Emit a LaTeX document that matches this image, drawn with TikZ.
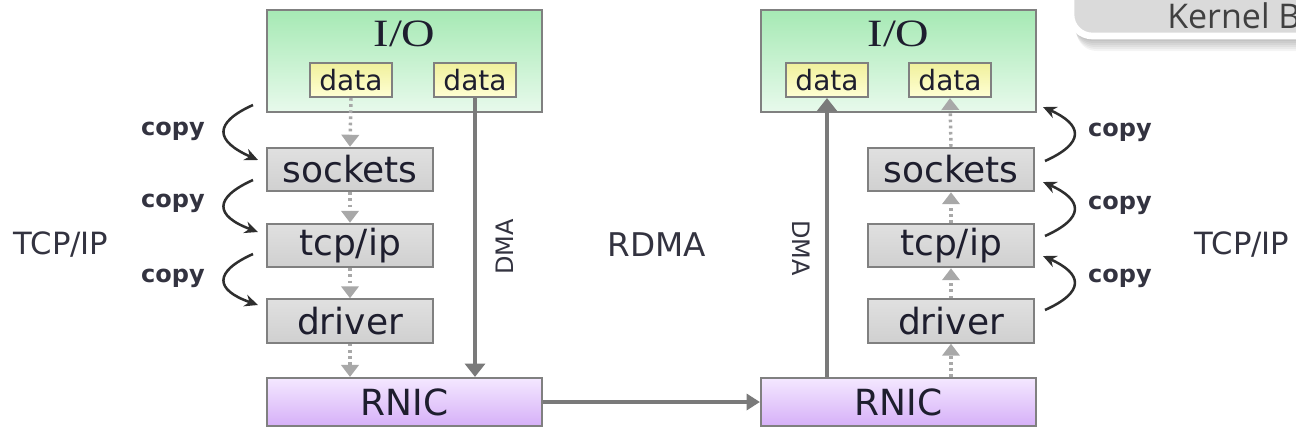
\documentclass[tikz,border=0pt]{standalone}
\usepackage{fontspec}
\setmainfont{DejaVu Sans}
\newfontfamily\iofont[FakeStretch=1.2]{Liberation Serif}
\newfontfamily\bannerfont{Open Sans}
\usetikzlibrary{arrows.meta,calc}

\definecolor{edgegray}{HTML}{808080}
\definecolor{linkgray}{HTML}{7A7A7A}
\definecolor{dotgray}{HTML}{A8A8A8}
\definecolor{ink}{HTML}{1E1E2E}
\definecolor{iotop}{HTML}{A6E9B4}
\definecolor{iobot}{HTML}{E8FAEC}
\definecolor{datatop}{HTML}{F0F09C}
\definecolor{databot}{HTML}{FFFFD4}
\definecolor{layertop}{HTML}{E0E0E0}
\definecolor{layermid}{HTML}{F4F4F4}
\definecolor{layerbot}{HTML}{D0D0D0}
\definecolor{nictop}{HTML}{F4E8FF}
\definecolor{nicbot}{HTML}{D6B0F8}
\definecolor{copyink}{HTML}{2E2E2E}
\definecolor{labelink}{HTML}{333340}
\definecolor{bannerfill}{HTML}{DADADA}
\definecolor{bannerink}{HTML}{404040}

\tikzset{
  box/.style={draw=edgegray, line width=1.6pt, inner sep=0pt, text=ink},
  iobox/.style={box, minimum width=206.25pt, minimum height=76.5pt,
    top color=iotop, bottom color=iobot},
  databox/.style={box, minimum width=62pt, minimum height=25.5pt,
    top color=datatop, bottom color=databot,
    font=\fontsize{21}{23}\selectfont},
  layerbox/.style={box, minimum width=125pt, minimum height=32.5pt,
    top color=layertop, middle color=layermid, bottom color=layerbot,
    font=\fontsize{27}{30}\selectfont},
  nicbox/.style={box, minimum width=206.25pt, minimum height=36pt,
    top color=nictop, bottom color=nicbot,
    font=\fontsize{27}{30}\selectfont},
  iolabel/.style={text=ink, font=\iofont\fontsize{29}{31}\selectfont},
  dma/.style={draw=linkgray, line width=3.6pt,
    -{Triangle[width=15pt,length=10pt]}},
  flow/.style={draw=dotgray, line width=2.6pt, dash pattern=on 2pt off 2.6pt,
    -{Triangle[width=13pt,length=9pt]}},
  wire/.style={draw=linkgray, line width=3pt,
    -{Triangle[width=12pt,length=10pt]}},
  copyarrow/.style={draw=copyink, line width=1.9pt,
    -{Stealth[length=10pt,width=9pt]}},
  copylabel/.style={text=labelink, font=\bfseries\fontsize{18}{20}\selectfont},
  sidelabel/.style={text=labelink, font=\fontsize{23}{25}\selectfont},
  dmalabel/.style={text=labelink, font=\fontsize{18}{20}\selectfont},
}

\begin{document}
\begin{tikzpicture}[x=0.75pt, y=-0.75pt]
\useasboundingbox (0,0) rectangle (1296,446);

% ---- corner banner ----
\begin{scope}
  \clip (0,0) rectangle (1296,446);
  \foreach \k in {2,4,...,14}
    \fill[black, opacity=0.045, rounded corners=15pt]
      (1071+\k*0.4,-40) rectangle (1340,37+\k);
  \draw[white, line width=5pt, fill=bannerfill, rounded corners=16pt]
    (1071,-40) rectangle (1340,36);
  \node[anchor=base west, inner sep=0pt, text=bannerink,
        font=\bannerfont\fontsize{25.5}{27}\selectfont] (banner) at (1167,28) {Kernel Bypass};
\end{scope}

% ---- left host (TCP/IP path) ----
\node[iobox] (ioL) at (404.5,61) {};
\node[iolabel] (ioLt) at (404.5,34) {I/O};
\node[databox] (dataL1) at (351,80) {data};
\node[databox] (dataL2) at (475,80) {data};
\node[layerbox] (sockL) at (350,169.5) {sockets};
\node[layerbox] (tcpL) at (350,245.5) {tcp/ip};
\node[layerbox] (drvL) at (350,321) {driver};
\node[nicbox] (nicL) at (404.5,402) {RNIC};

% ---- right host ----
\node[iobox] (ioR) at (898.5,61) {};
\node[iolabel] (ioRt) at (898.5,34) {I/O};
\node[databox] (dataR1) at (827,80) {data};
\node[databox] (dataR2) at (950,80) {data};
\node[layerbox] (sockR) at (951,169.5) {sockets};
\node[layerbox] (tcpR) at (951,245.5) {tcp/ip};
\node[layerbox] (drvR) at (951,321) {driver};
\node[nicbox] (nicR) at (898.5,402) {RNIC};

% ---- kernel stack flow (dotted) ----
\draw[flow] (dataL1.south) -- (sockL.north);
\draw[flow] (sockL.south) -- (tcpL.north);
\draw[flow] (tcpL.south) -- (drvL.north);
\draw[flow] (drvL.south) -- (drvL.south |- nicL.north);

\draw[flow] (drvR.south |- nicR.north) -- (drvR.south);
\draw[flow] (drvR.north) -- (tcpR.south);
\draw[flow] (tcpR.north) -- (sockR.south);
\draw[flow] (sockR.north) -- (dataR2.south);

% ---- DMA paths ----
\draw[dma] (dataL2.south) -- (dataL2.south |- nicL.north);
\draw[dma] (dataR1.south |- nicR.north) -- (dataR1.south);
\node[dmalabel, rotate=90] (dmaL) at (505,247) {DMA};
\node[dmalabel, rotate=-90] (dmaR) at (801,248) {DMA};

% ---- network link ----
\draw[wire] (nicL.east) -- (nicR.west);

% ---- side labels ----
\node[sidelabel] (tcpipL) at (61,245) {TCP/IP};
\node[sidelabel, font=\fontsize{24.5}{26}\selectfont] (rdma) at (657,245) {RDMA};
\node[sidelabel] (tcpipR) at (1242,245) {TCP/IP};

% ---- copy arrows, left ----
\coordinate (cLa1) at (253,105);  \coordinate (cLb1) at (258,160);
\coordinate (cLa2) at (253,180);  \coordinate (cLb2) at (258,232);
\coordinate (cLa3) at (253,254);  \coordinate (cLb3) at (258,305);
\foreach \i in {1,2,3}
  \draw[copyarrow] (cLa\i) .. controls ($(cLa\i)+(-40,18)$) and ($(cLa\i)+(-38,36)$) .. (cLb\i);
\node[copylabel] (copyL1) at (173,131) {copy};
\node[copylabel] (copyL2) at (173,203) {copy};
\node[copylabel] (copyL3) at (173,278) {copy};

% ---- copy arrows, right ----
\coordinate (cRa1) at (1045,161);  \coordinate (cRb1) at (1043,107);
\coordinate (cRa2) at (1045,236);  \coordinate (cRb2) at (1043,182);
\coordinate (cRa3) at (1045,310);  \coordinate (cRb3) at (1043,256);
\foreach \i in {1,2,3}
  \draw[copyarrow] (cRa\i) .. controls ($(cRa\i)+(40,-18)$) and ($(cRa\i)+(38,-36)$) .. (cRb\i);
\node[copylabel] (copyR1) at (1120,132) {copy};
\node[copylabel] (copyR2) at (1120,205) {copy};
\node[copylabel] (copyR3) at (1120,278) {copy};
\end{tikzpicture}
\end{document}
